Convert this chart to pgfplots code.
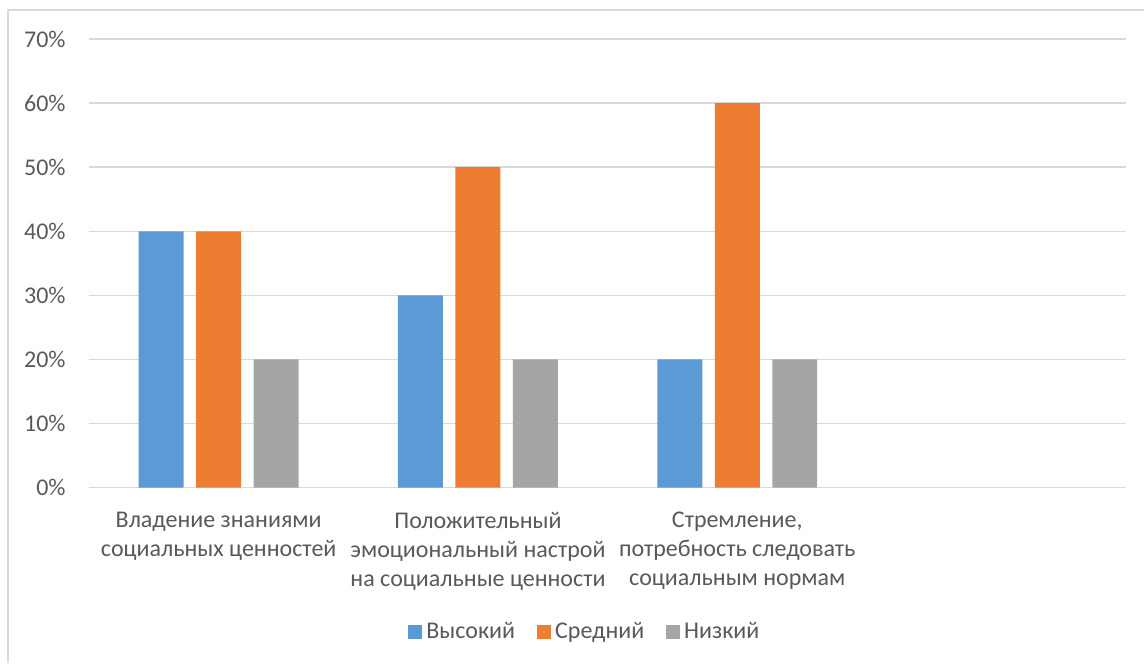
\documentclass[border=0pt]{standalone}
\usepackage{pgfplots}
\pgfplotsset{compat=1.18}
\usepackage{fontspec}
\setmainfont{Carlito}
\definecolor{hi}{HTML}{5B9BD5}
\definecolor{mid}{HTML}{ED7D31}
\definecolor{lo}{HTML}{A5A5A5}
\definecolor{gridc}{HTML}{D9D9D9}
\definecolor{txt}{HTML}{595959}
\begin{document}
\fontsize{12}{14.5}\selectfont
\begin{tikzpicture}
% page: 1145x663 px at 0.5pt per px
\path (0pt,0pt) rectangle (572.5pt,331.5pt);
\draw[gridc,line width=0.75pt] (4pt,0pt) -- (4pt,326.5pt) -- (572.5pt,326.5pt);
\begin{axis}[at={(44.5pt,87.5pt)},anchor=south west,
    scale only axis,width=519pt,height=224.5pt,
    ybar=6.25pt,bar width=22.5pt,
    xmin=-0.5,xmax=3.5,ymin=0,ymax=70,
    xtick={0,1,2},
    xticklabels={{Владение знаниями\\социальных ценностей},
      {Положительный\\эмоциональный настрой\\на социальные ценности},
      {Стремление,\\потребность следовать\\социальным нормам}},
    ytick={0,10,...,70},
    yticklabels={0\%,10\%,20\%,30\%,40\%,50\%,60\%,70\%},
    major tick length=0pt,
    axis line style={draw=none},
    ymajorgrids,
    grid style={gridc,line width=0.75pt},
    tick label style={text=txt},
    xticklabel style={align=center,yshift=-8pt},
    yticklabel style={xshift=-7.5pt},
    legend style={at={(0.479,-0.322)},anchor=center,draw=none,
      legend columns=3,text=txt,
      /tikz/every even column/.append style={column sep=9pt}},
    legend image code/.code={\fill[#1] (0pt,-3.5pt) rectangle (7pt,3.5pt);},
    ]
\addplot[fill=hi,draw=none] coordinates {(0,40) (1,30) (2,20)};
\addplot[fill=mid,draw=none] coordinates {(0,40) (1,50) (2,60)};
\addplot[fill=lo,draw=none] coordinates {(0,20) (1,20) (2,20)};
\legend{Высокий,Средний,Низкий}
\end{axis}
\end{tikzpicture}
\end{document}
